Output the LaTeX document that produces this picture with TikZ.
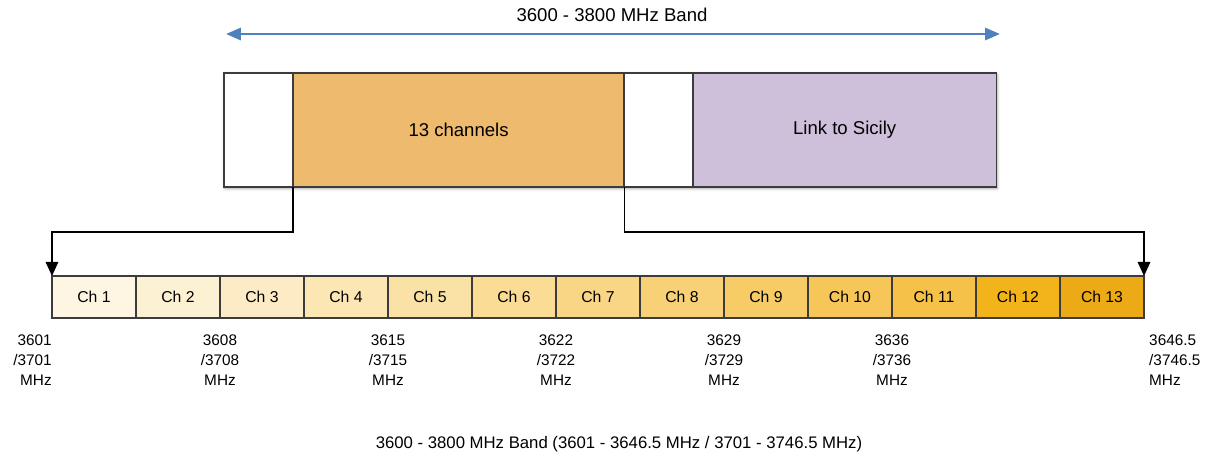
\documentclass[tikz,border=0pt]{standalone}
\usepackage{fontspec}
\setmainfont{Liberation Sans}
\usepackage{xcolor}
\definecolor{BandBlue}{HTML}{4F81BD}
\definecolor{ChanOrange}{HTML}{EEBA6D}
\definecolor{SicilyLilac}{HTML}{CEC0DB}
\definecolor{ChStart}{HTML}{FEF6E3}
\definecolor{ChEnd}{HTML}{F5C148}
\definecolor{ChTwelve}{HTML}{F3B41B}
\definecolor{ChThirteen}{HTML}{ECAA16}
\definecolor{EdgeGray}{HTML}{3C3C3C}
\usepackage{tikz}
\usetikzlibrary{arrows.meta, positioning, backgrounds, fit, shadows.blur}

\begin{document}
\begin{tikzpicture}[x=0.025cm, y=-0.025cm,
  blk/.style={rectangle, draw=EdgeGray, line width=0.9pt, fill=#1, outer sep=0pt,
    inner sep=0pt, minimum height=2.85cm, anchor=west, font=\fontsize{13.2}{15}\selectfont},
  chan/.style={rectangle, draw=EdgeGray, line width=0.9pt, fill=#1, outer sep=0pt,
    minimum width=2.1cm, minimum height=1.05cm, font=\fontsize{11.2}{13}\selectfont},
  freq/.style={inner sep=0pt, font=\fontsize{10.9}{14.2}\selectfont},
  lbl/.style={inner sep=0pt, font=\fontsize{13.2}{15}\selectfont},
  capline/.style={inner sep=0pt, font=\fontsize{11.9}{14}\selectfont},
  band/.style={<->, >={Triangle[length=10.5pt, width=8.5pt]}, line width=2pt, draw=BandBlue},
  link/.style={->, >={Triangle[length=10pt, width=9pt]}, line width=0.8pt, draw=black},
]
\useasboundingbox (0,0) rectangle (1216,456);

%% -- Band arrow --------------------------------------------
\coordinate (bandL) at (226,34);
\coordinate (bandR) at (1000,34);
\draw[band] (bandL) -- (bandR);
\node[lbl] at (612,15) (title) {3600 - 3800 MHz Band};

%% -- Top bar --------------------------------------------
\node[blk=white, minimum width=1.725cm] at (224,130) (gapA) {};
\node[blk=ChanOrange, minimum width=8.275cm, right=0pt of gapA] (chans) {13 channels};
\node[blk=white, minimum width=1.725cm, right=0pt of chans] (gapB) {};
\node[blk=SicilyLilac, minimum width=7.575cm, right=0pt of gapB] (sicily) {Link to Sicily};

\begin{scope}[on background layer]
  \node[fit=(gapA)(sicily), inner sep=0pt, fill=white,
    blur shadow={shadow xshift=0.6pt, shadow yshift=-1pt, shadow blur steps=3}] (bar) {};
\end{scope}

%% -- Channel row --------------------------------------------
\foreach \i [evaluate=\i as \p using {int((\i-1)*10)}] in {1,...,11}
  \node[chan=ChEnd!\p!ChStart] at ({10+84*\i},297) (ch\i) {Ch \i};
\node[chan=ChTwelve]   at (1018,297) (ch12) {Ch 12};
\node[chan=ChThirteen] at (1102,297) (ch13) {Ch 13};

%% Connectors
\coordinate (turn) at (0,232);
\draw[link] (chans.south west) -- (chans.south west |- turn) -| (ch1.north west);
\draw[link] (chans.south east) -- (chans.south east |- turn) -| (ch13.north east);

%% -- Frequencies --------------------------------------------
\node[freq, align=right, below left=12pt and 0pt of ch1.south west] (f1) {3601\\/3701\\MHz};
\foreach \k/\lo/\hi in {3/3608/3708, 5/3615/3715, 7/3622/3722, 9/3629/3729, 11/3636/3736}
  \node[freq, align=center, below=12pt of ch\k.south west] (f\k) {\lo\\/\hi\\MHz};
\node[freq, align=left, below right=12pt and 3.5pt of ch13.south east] (f13) {3646.5\\/3746.5\\MHz};

\node[capline] at (619,444) (caption) {3600 - 3800 MHz Band (3601 - 3646.5 MHz / 3701 - 3746.5 MHz)};

\end{tikzpicture}
\end{document}
